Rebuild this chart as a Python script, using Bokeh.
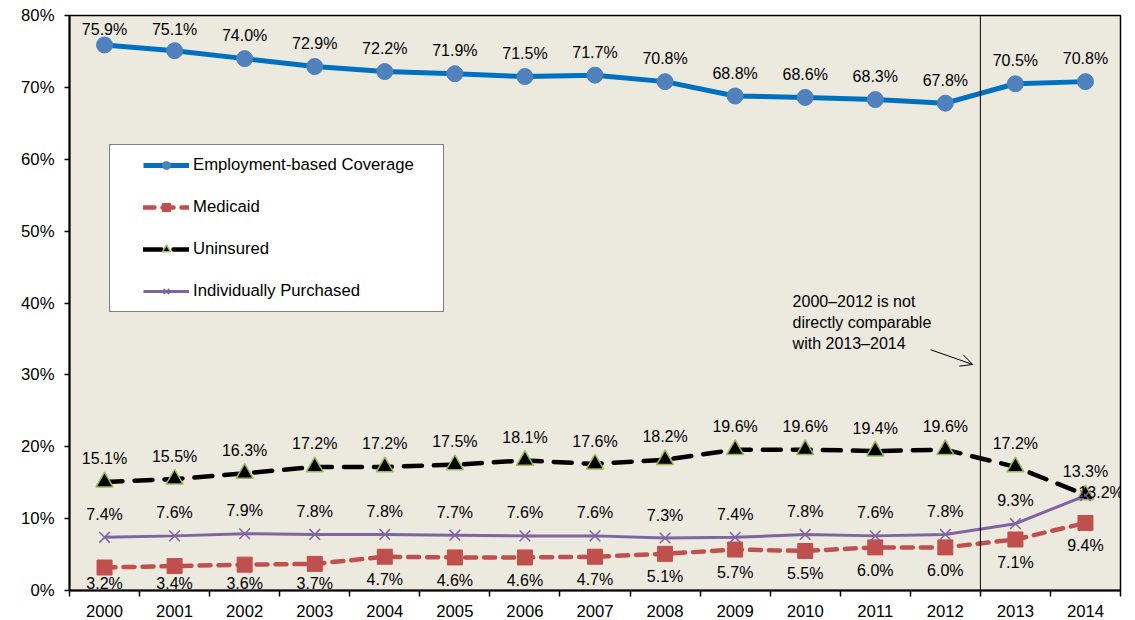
from bokeh.plotting import figure
from bokeh.models import (ColumnDataSource, FixedTicker, Legend, LegendItem,
                          LabelSet, Span, Label, Arrow, OpenHead)
from bokeh.core.properties import value
from bokeh.embed import file_html
from bokeh.resources import INLINE

# ---------------- data ----------------
years = ["2000", "2001", "2002", "2003", "2004", "2005", "2006", "2007",
         "2008", "2009", "2010", "2011", "2012", "2013", "2014"]
employment = [75.9, 75.1, 74.0, 72.9, 72.2, 71.9, 71.5, 71.7, 70.8, 68.8, 68.6, 68.3, 67.8, 70.5, 70.8]
medicaid = [3.2, 3.4, 3.6, 3.7, 4.7, 4.6, 4.6, 4.7, 5.1, 5.7, 5.5, 6.0, 6.0, 7.1, 9.4]
uninsured = [15.1, 15.5, 16.3, 17.2, 17.2, 17.5, 18.1, 17.6, 18.2, 19.6, 19.6, 19.4, 19.6, 17.2, 13.3]
individual = [7.4, 7.6, 7.9, 7.8, 7.8, 7.7, 7.6, 7.6, 7.3, 7.4, 7.8, 7.6, 7.8, 9.3, 13.2]
y_ticks = [0, 10, 20, 30, 40, 50, 60, 70, 80]
y_tick_labels = ["0%", "10%", "20%", "30%", "40%", "50%", "60%", "70%", "80%"]
note_text = "2000\u20132012 is not\ndirectly comparable\nwith 2013\u20132014"

# ---------------- style ----------------
FONT = "Liberation Sans"
Y_MAX = 80
FRAME_W, FRAME_H = 1051, 575
PPU = FRAME_H / Y_MAX
BG = "#ECE9DF"
C_EMP_LINE, C_EMP_MARK = "#0070C0", "#4F81BD"
C_MED = "#C0504D"
C_UNI_EDGE = "#9BBB59"
C_IND = "#8064A2"

xs = list(range(len(years)))

p = figure(frame_width=FRAME_W, frame_height=FRAME_H,
           x_range=(-0.5, len(years) - 0.5), y_range=(0, Y_MAX),
           output_backend="svg", toolbar_location=None,
           min_border_left=69, min_border_top=15, min_border_right=15,
           min_border_bottom=30,
           background_fill_color=BG, border_fill_color="white",
           outline_line_color="black", outline_line_width=1.5)
p.xgrid.visible = False
p.ygrid.visible = False

# x axis: labels at centres, ticks at category boundaries
p.xaxis.ticker = FixedTicker(ticks=xs, minor_ticks=[i - 0.5 for i in range(len(years) + 1)])
p.xaxis.major_label_overrides = {i: y for i, y in enumerate(years)}
p.xaxis.major_tick_line_color = None
p.xaxis.major_tick_out = 0
p.xaxis.major_tick_in = 0
p.xaxis.minor_tick_out = 6
p.xaxis.minor_tick_in = 0
p.xaxis.minor_tick_line_color = "black"
p.xaxis.minor_tick_line_width = 1.5
p.xaxis.major_label_standoff = 8

p.yaxis.ticker = FixedTicker(ticks=y_ticks)
p.yaxis.major_label_overrides = dict(zip(y_ticks, y_tick_labels))
p.yaxis.minor_tick_line_color = None
p.yaxis.major_tick_out = 5
p.yaxis.major_tick_in = 0
p.yaxis.major_label_standoff = 10

for ax in (p.xaxis, p.yaxis):
    ax.axis_line_color = "black"
    ax.axis_line_width = 2
    ax.major_tick_line_width = 1.5
    ax.major_label_text_font = FONT
    ax.major_label_text_font_size = "16.7px"
    ax.major_label_text_color = "black"

# separator between non-comparable periods
p.add_layout(Span(location=(years.index("2012") + years.index("2013")) / 2,
                  dimension="height", line_color="black", line_width=1))

# ---------------- series ----------------
l_emp = p.line(xs, employment, line_color=C_EMP_LINE, line_width=5)
m_emp = p.scatter(xs, employment, marker="circle", size=16,
                  fill_color=C_EMP_MARK, line_color=C_EMP_MARK)

l_med = p.line(xs, medicaid, line_color=C_MED, line_width=4.5,
               line_dash="11 8", line_cap="round")
m_med = p.scatter(xs, medicaid, marker="square", size=15,
                  fill_color=C_MED, line_color=C_MED)

l_uni = p.line(xs, uninsured, line_color="black", line_width=4.5,
               line_dash="18 12", line_cap="round")
m_uni = p.scatter(xs, uninsured, marker="triangle", size=17,
                  fill_color="black", line_color=C_UNI_EDGE, line_width=1.5)

l_ind = p.line(xs, individual, line_color=C_IND, line_width=3)
m_ind = p.scatter(xs, individual, marker="x", size=15,
                  line_color=C_IND, line_width=1.5)

# ---------------- data labels ----------------
GAP = 23


def label_offsets(vals, pos):
    offs = []
    for v in vals:
        if pos == "above":
            offs.append(min(GAP, (Y_MAX - v) * PPU - 14))
        else:
            offs.append(-min(GAP, v * PPU - 7))
    return offs


def add_labels(idx, vals, pos, align="center", x_off=0, y_off=None):
    vv = [vals[i] for i in idx]
    src = ColumnDataSource(dict(
        x=[xs[i] for i in idx], y=vv,
        t=[f"{v:.1f}%" for v in vv],
        yo=label_offsets(vv, pos) if y_off is None else [y_off] * len(vv)))
    p.add_layout(LabelSet(x="x", y="y", text="t", source=src, y_offset="yo",
                          x_offset=x_off, text_align=align,
                          text_baseline="middle", text_font=value(FONT),
                          text_font_size="16px", text_color="black"))


all_idx = list(range(len(years)))
add_labels(all_idx, employment, "above")
add_labels(all_idx, uninsured, "above")
add_labels(all_idx[:-1], individual, "above")
add_labels(all_idx[-1:], individual, "right", align="left", x_off=-7, y_off=3)
add_labels(all_idx, medicaid, "below")

# ---------------- note + arrow ----------------
p.add_layout(Label(x=9.82, y=41.4, text=note_text, text_align="left",
                   text_baseline="top", text_font=FONT, text_font_size="16px",
                   text_color="black", text_line_height=1.25))
p.add_layout(Arrow(end=OpenHead(size=12, line_width=1, line_color="black"),
                   x_start=11.79, y_start=33.5, x_end=12.39, y_end=31.45,
                   line_width=1, line_color="black"))

# ---------------- legend ----------------
dummy = p.line([], [], line_alpha=0)
bg_legend = Legend(items=[LegendItem(label=" ", renderers=[dummy])],
                   location=(40, 278), padding=0, margin=0,
                   glyph_width=1, glyph_height=166, label_width=332,
                   label_height=166, label_standoff=0,
                   border_line_color="black", border_line_width=1.5,
                   background_fill_color="white", background_fill_alpha=1)
p.add_layout(bg_legend)

legend = Legend(items=[
    LegendItem(label="Employment-based Coverage", renderers=[l_emp, m_emp]),
    LegendItem(label="Medicaid", renderers=[l_med, m_med]),
    LegendItem(label="Uninsured", renderers=[l_uni, m_uni]),
    LegendItem(label="Individually Purchased", renderers=[l_ind, m_ind]),
], location=(64, 279), padding=10, margin=0, spacing=22,
    glyph_width=46, glyph_height=20, label_height=20, label_standoff=4,
    label_text_font=FONT, label_text_font_size="16.7px", label_text_color="black",
    border_line_alpha=0, background_fill_alpha=0)
p.add_layout(legend)

open("out.html", "w").write(file_html(p, INLINE))
